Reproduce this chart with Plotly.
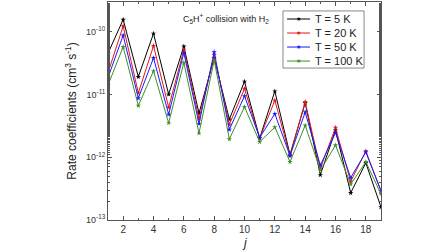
import plotly.graph_objects as go

j = list(range(1, 20))
k5 = [4.5e-11, 1.55e-10, 1.9e-11, 9.3e-11, 1.0e-11, 5.8e-11, 5.0e-12, 3.8e-11, 4.0e-12, 1.6e-11,
      2.0e-12, 1.12e-11, 1.1e-12, 7.3e-12, 5.2e-13, 2.7e-12, 2.7e-13, 8.1e-13, 1.6e-13]
k20 = [2.2e-11, 1.22e-10, 1.05e-11, 5.9e-11, 6.2e-12, 5.1e-11, 4.1e-12, 4.2e-11, 3.3e-12, 1.23e-11,
       2.0e-12, 8.0e-12, 1.05e-12, 7.6e-12, 6.6e-13, 2.95e-12, 4.1e-13, 1.25e-12, 2.9e-13]
k50 = [1.85e-11, 8.7e-11, 8.7e-12, 3.8e-11, 4.8e-12, 4.6e-11, 3.4e-12, 4.7e-11, 2.75e-12, 9.4e-12,
       2.05e-12, 4.9e-12, 1.05e-12, 5.2e-12, 7.4e-13, 2.45e-12, 4.7e-13, 1.2e-12, 2.9e-13]
k100 = [1.4e-11, 5.7e-11, 6.6e-12, 2.35e-11, 3.5e-12, 3.2e-11, 2.4e-12, 3.5e-11, 1.94e-12, 6.3e-12,
        1.75e-12, 3.0e-12, 8.4e-13, 3.2e-12, 6.2e-13, 1.55e-12, 3.7e-13, 8.4e-13, 2.6e-13]

names = ["T = 5 K", "T = 20 K", "T = 50 K", "T = 100 K"]
colors = ["#000000", "#e3171b", "#1a1aff", "#3f8f2a"]
series = [k5, k20, k50, k100]

ytickvals = [1e-13, 1e-12, 1e-11, 1e-10]
yticktext = ["10<sup>-13</sup>", "10<sup>-12</sup>", "10<sup>-11</sup>", "10<sup>-10</sup>"]
xtickvals = [2, 4, 6, 8, 10, 12, 14, 16, 18]

fig = go.Figure()
for nm, c, s in zip(names, colors, series):
    fig.add_trace(go.Scatter(x=j, y=s, name=nm, mode="lines+markers",
                             line=dict(color=c, width=1), showlegend=False,
                             marker=dict(symbol="star", size=4, color=c)))

axcol = "#555555"

# compact legend box (paper coordinates)
shapes = [dict(type="rect", xref="paper", yref="paper", x0=0.641, x1=0.938,
               y0=0.697, y1=0.959, line=dict(color="#888888", width=1),
               fillcolor="white", layer="above")]
annotations = []
ly0, lstep = 0.922, 0.0643
for i, (nm, c) in enumerate(zip(names, colors)):
    yy = ly0 - i * lstep
    shapes.append(dict(type="line", xref="paper", yref="paper", x0=0.656, x1=0.740,
                       y0=yy, y1=yy, line=dict(color=c, width=1), layer="above"))
    annotations.append(dict(text="★", x=0.698, y=yy, xref="paper", yref="paper",
                            xanchor="center", yanchor="middle", showarrow=False,
                            font=dict(size=6, color=c)))
    annotations.append(dict(text=nm, x=0.751, y=yy, xref="paper", yref="paper",
                            xanchor="left", yanchor="middle", showarrow=False,
                            font=dict(size=11, color="#222222")))

annotations += [
    dict(text="C<sub>5</sub>H<sup>+</sup> collision with H<sub>2</sub>",
         x=0.434, y=0.965, xref="paper", yref="paper",
         xanchor="center", yanchor="top", showarrow=False,
         font=dict(size=9, color="#222222")),
    dict(text="<i>j</i>", x=0.5, y=-0.105, xref="paper", yref="paper",
         xanchor="center", yanchor="middle", showarrow=False,
         font=dict(size=12, color="#222222")),
]

fig.update_layout(
    width=448, height=252,
    margin=dict(l=108, r=67, t=2, b=32),
    paper_bgcolor="white", plot_bgcolor="white",
    font=dict(family="Liberation Sans, Arial, sans-serif", color="#333333", size=10),
    showlegend=False,
    shapes=shapes,
    annotations=annotations,
)
fig.update_xaxes(range=[1, 19], tickvals=xtickvals, ticks="inside", ticklen=4,
                 showline=True, linecolor=axcol, linewidth=1, mirror="ticks",
                 showgrid=False, zeroline=False, tickcolor=axcol, automargin=False,
                 minor=dict(ticks="inside", ticklen=2, dtick=1, tick0=1, tickcolor=axcol),
                 tickfont=dict(size=10, color="#333333"))
fig.update_yaxes(type="log", range=[-13, -9.53], tickvals=ytickvals, ticktext=yticktext,
                 ticks="inside", ticklen=4, showline=True, linecolor=axcol, linewidth=1,
                 mirror="ticks", showgrid=False, zeroline=False, tickcolor=axcol,
                 automargin=False,
                 minor=dict(ticks="inside", ticklen=2, tickcolor=axcol),
                 title=dict(text="Rate coefficients (cm<sup>3</sup> s<sup>-1</sup>)",
                            font=dict(size=12, color="#222222"), standoff=6),
                 tickfont=dict(size=9, color="#333333"))

fig.write_html("out.html", config={"displayModeBar": False},
               post_script="document.body.style.margin='0';document.body.style.overflow='hidden';")
